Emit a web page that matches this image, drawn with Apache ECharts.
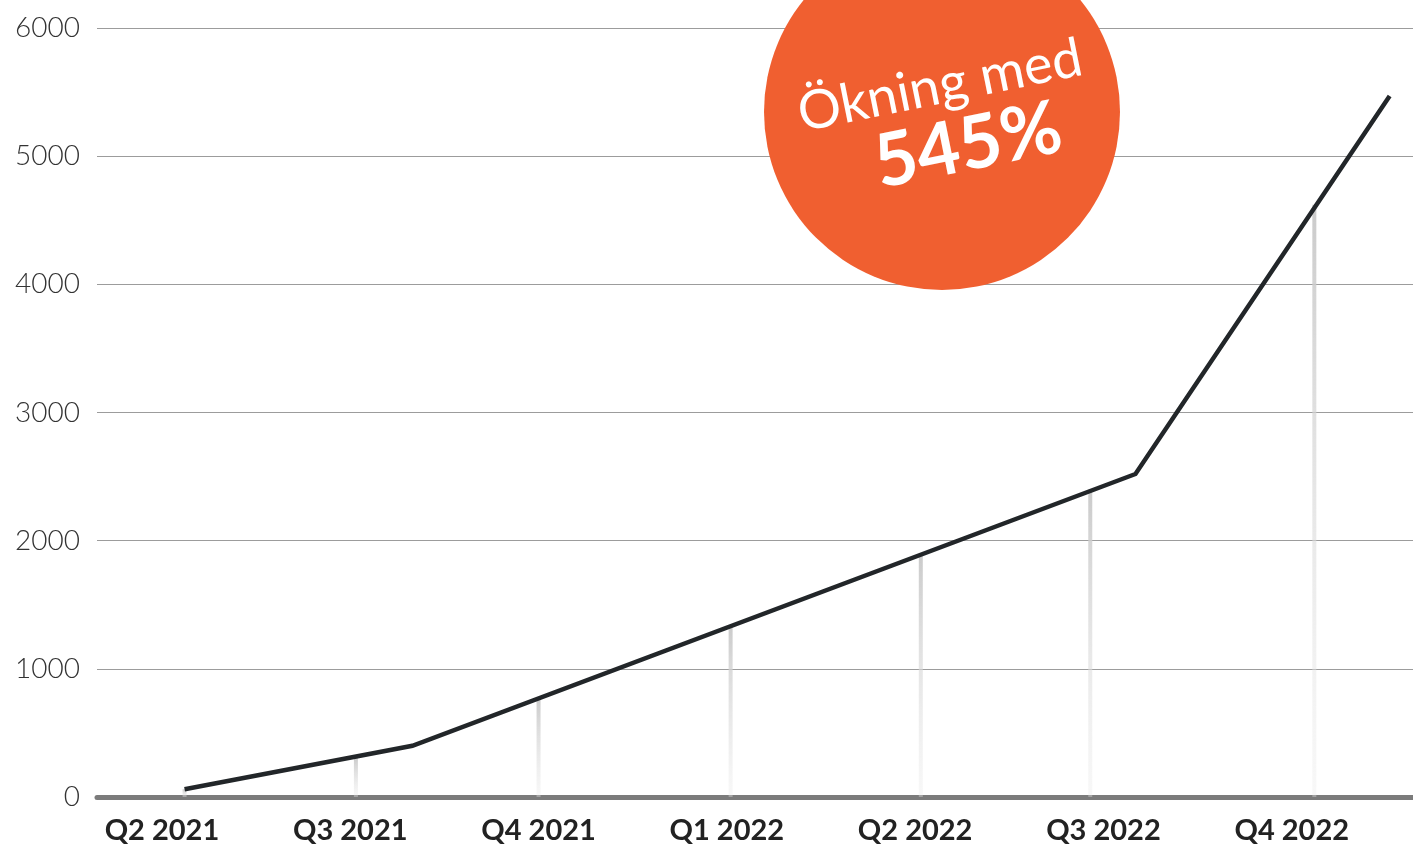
<!DOCTYPE html>
<html>
<head>
<meta charset="utf-8">
<script src="https://cdn.jsdelivr.net/npm/echarts@6/dist/echarts.min.js"></script>
<style>
  html, body { margin: 0; padding: 0; background: #fff; }
  #chart { width: 1413px; height: 845px; }
</style>
</head>
<body>
<div id="chart"></div>
<script>
// quarter labels, x positions are in quarter units (0 = Q2 2021)
var quarters = ['Q2 2021', 'Q3 2021', 'Q4 2021', 'Q1 2022', 'Q2 2022', 'Q3 2022', 'Q4 2022'];
var quarterTicks = [0, 1, 2, 3, 4, 5, 6];

// the black trend line
var lineX = [0.12, 1.33, 5.17, 6.52];
var lineY = [60, 400, 2520, 5470];

// faint grey drop lines under the trend line
var dropX = [0.12, 1.03, 2.0, 3.02, 4.03, 4.93, 6.12];
var dropY = [60, 310, 765, 1340, 1895, 2400, 4620];

var yTicks = [0, 1000, 2000, 3000, 4000, 5000, 6000];

var chartDom = document.getElementById('chart');
var myChart = echarts.init(chartDom);

var lineData = lineX.map(function (x, i) { return [x, lineY[i]]; });
var dropData = dropX.map(function (x, i) { return [x, dropY[i]]; });

var option = {
  animation: false,
  grid: { left: 97, right: 0, top: 28, bottom: 48 },
  xAxis: {
    type: 'value',
    min: -0.345,
    max: 6.644,
    splitLine: { show: false },
    axisLine: { show: true, onZero: false, lineStyle: { color: '#7b7b7b', width: 5 } },
    axisTick: { show: false },
    axisLabel: {
      customValues: quarterTicks,
      formatter: function (v) { return quarters[Math.round(v)]; },
      margin: 19,
      fontFamily: 'Lato',
      fontWeight: 'bold',
      fontSize: 29,
      color: '#222'
    }
  },
  yAxis: {
    type: 'value',
    min: yTicks[0],
    max: yTicks[yTicks.length - 1],
    interval: 1000,
    axisLine: { show: false },
    axisTick: { show: false },
    splitLine: { lineStyle: { color: '#9c9c9c', width: 1 } },
    axisLabel: {
      margin: 17,
      fontFamily: 'Lato',
      fontWeight: 300,
      fontSize: 28,
      color: '#333',
      formatter: function (v) { return String(v); }
    }
  },
  series: [
    {
      type: 'bar',
      data: dropData,
      barWidth: 4,
      z: 1,
      itemStyle: {
        color: new echarts.graphic.LinearGradient(0, 0, 0, 1, [
          { offset: 0, color: 'rgba(200,200,200,0.95)' },
          { offset: 1, color: 'rgba(235,235,235,0.35)' }
        ])
      }
    },
    {
      type: 'line',
      data: lineData,
      symbol: 'none',
      z: 3,
      lineStyle: { color: '#222629', width: 4.5, join: 'miter' }
    }
  ],
  graphic: [
    {
      type: 'circle',
      shape: { cx: 942, cy: 112, r: 178 },
      style: { fill: '#F05F30' },
      z: 10
    },
    {
      type: 'text',
      x: 940,
      y: 86,
      rotation: 0.2,
      style: {
        text: 'Ökning med',
        x: 0, y: 0,
        textAlign: 'center',
        textVerticalAlign: 'middle',
        fill: '#fff',
        fontFamily: 'Lato',
        fontSize: 54,
        letterSpacing: 1
      },
      z: 11
    },
    {
      type: 'text',
      x: 968,
      y: 146,
      rotation: 0.2,
      style: {
        text: '545%',
        x: 0, y: 0,
        textAlign: 'center',
        textVerticalAlign: 'middle',
        fill: '#fff',
        fontFamily: 'Lato',
        fontWeight: 'bold',
        fontSize: 74
      },
      z: 11
    }
  ]
};

option && myChart.setOption(option);
</script>
</body>
</html>
